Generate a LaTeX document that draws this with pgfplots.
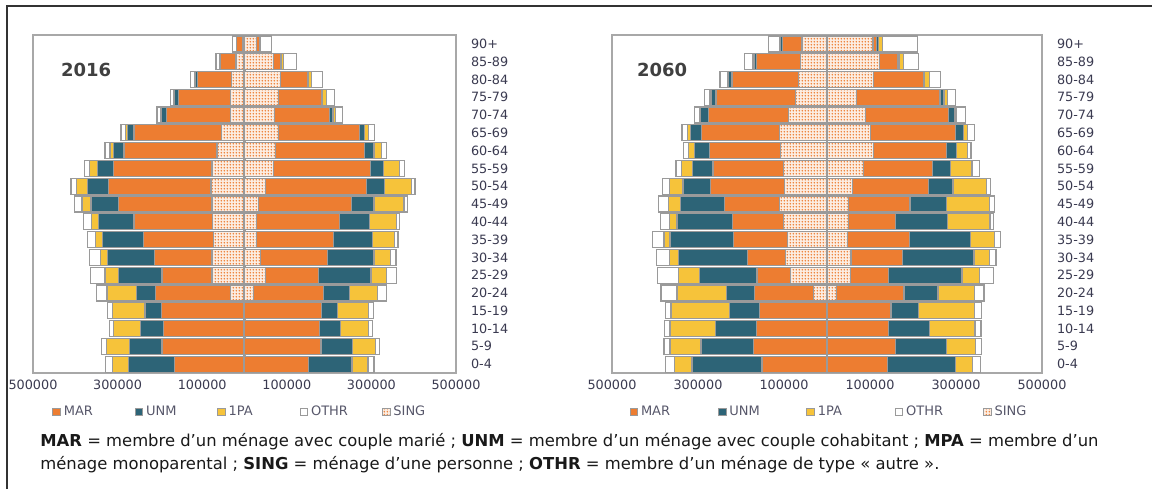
\documentclass[border=0pt]{standalone}
\usepackage{pgfplots}
\pgfplotsset{compat=1.18}
\usepackage{pgfplotstable}
\usepackage{fontspec}
\setmainfont{DejaVu Sans}
\usetikzlibrary{patterns}

\definecolor{mar}{HTML}{ED7D31}
\definecolor{unm}{HTML}{2D6477}
\definecolor{opa}{HTML}{F6C33A}
\definecolor{edge}{HTML}{9A9A9A}
\definecolor{axisgray}{HTML}{A8A8A8}
\definecolor{lbl}{HTML}{3A3A50}

% fine dot texture for the SING bars
\pgfdeclarepatternformonly{finedots}{\pgfpointorigin}{\pgfqpoint{1.6pt}{1.6pt}}{\pgfqpoint{1.6pt}{1.6pt}}{%
  \pgfpathellipse{\pgfqpoint{0.8pt}{0.8pt}}{\pgfqpoint{0.45pt}{0pt}}{\pgfqpoint{0pt}{0.6pt}}%
  \pgfusepath{fill}}

% 2016, left half (negative side)
\pgfplotstableread{
age SING MAR UNM PA OTHR
0 0 -166000 -108000 -38000 -16000
1 0 -195000 -76000 -55000 -12000
2 0 -192000 -53000 -64000 -10000
3 0 -196000 -39000 -77000 -12000
4 -34000 -177000 -45000 -69000 -24000
5 -77000 -118000 -102000 -33000 -34000
6 -77000 -135000 -112000 -16000 -26000
7 -73000 -166000 -97000 -17000 -18000
8 -75000 -186000 -84000 -16000 -20000
9 -77000 -221000 -65000 -21000 -18000
10 -79000 -243000 -49000 -26000 -13000
11 -77000 -233000 -38000 -18000 -13000
12 -65000 -220000 -24000 -9000 -12000
13 -55000 -206000 -16000 -5000 -10000
14 -34000 -151000 -12000 -2000 -8000
15 -34000 -122000 -9000 -2000 -8000
16 -30000 -82000 -5000 -1000 -9000
17 -20000 -37000 -1500 -1000 -8000
18 -5000 -13000 -1000 -500 -8000
}\Lsixteen

% 2016, right half
\pgfplotstableread{
age SING MAR UNM PA OTHR
0 0 152000 102000 38000 14000
1 0 181000 74000 55000 10000
2 0 178000 49000 66000 10000
3 0 182000 38000 74000 10000
4 21000 165000 63000 65000 21000
5 49000 126000 124000 37000 24000
6 37000 159000 110000 39000 13000
7 29000 181000 92000 53000 8000
8 29000 196000 71000 63000 8000
9 33000 220000 53000 71000 9000
10 49000 239000 43000 63000 9000
11 68000 230000 31000 37000 13000
12 74000 210000 22000 17000 12000
13 80000 191000 13000 9000 15000
14 70000 131000 8000 6000 16000
15 80000 102000 2000 10000 19000
16 86000 63000 2000 8000 26000
17 68000 18000 1000 5000 31000
18 29000 6000 1000 1000 27000
}\Rsixteen

% 2060, left half
\pgfplotstableread{
age SING MAR UNM PA OTHR
0 0 -151000 -163000 -40000 -22000
1 0 -171000 -122000 -72000 -14000
2 0 -164000 -96000 -105000 -12000
3 0 -157000 -70000 -136000 -13000
4 -31000 -138000 -64000 -116000 -37000
5 -84000 -79000 -133000 -49000 -49000
6 -97000 -88000 -160000 -21000 -31000
7 -91000 -127000 -147000 -14000 -27000
8 -101000 -119000 -129000 -17000 -22000
9 -110000 -128000 -102000 -29000 -22000
10 -99000 -172000 -64000 -31000 -16000
11 -102000 -163000 -47000 -26000 -13000
12 -109000 -165000 -35000 -14000 -11000
13 -110000 -181000 -26000 -7000 -13000
14 -89000 -186000 -19000 -3000 -12000
15 -74000 -184000 -12000 -2000 -12000
16 -66000 -155000 -9000 -2000 -17000
17 -62000 -102000 -6000 -3000 -18000
18 -58000 -46000 -4000 -2000 -26000
}\Lsixty

% 2060, right half
\pgfplotstableread{
age SING MAR UNM PA OTHR
0 0 140000 159000 39000 19000
1 0 159000 119000 67000 14000
2 0 143000 95000 106000 14000
3 0 149000 64000 130000 16000
4 22000 157000 79000 85000 22000
5 54000 89000 171000 41000 33000
6 56000 119000 167000 35000 16000
7 48000 144000 141000 56000 14000
8 50000 109000 122000 98000 8000
9 50000 143000 84000 101000 11000
10 60000 176000 57000 78000 9000
11 85000 161000 42000 49000 18000
12 108000 169000 25000 25000 8000
13 101000 198000 19000 8000 17000
14 89000 194000 13000 4000 22000
15 68000 195000 9000 8000 19000
16 109000 115000 3000 12000 25000
17 122000 43000 3000 10000 35000
18 107000 9000 3000 10000 81000
}\Rsixty

\pgfplotsset{
  panel/.style={
    scale only axis, height=169pt,
    xbar stacked, bar width=8pt,
    xmin=-500000, xmax=500000, ymin=-0.5, ymax=18.5,
    scaled x ticks=false,
    axis line style={axisgray, line width=1pt},
    xtick={-500000,-300000,-100000,100000,300000,500000},
    xticklabels={500000,300000,100000,100000,300000,500000},
    xtick pos=bottom, ytick pos=right,
    ytick={0,...,18},
    yticklabels={0-4,5-9,10-14,15-19,20-24,25-29,30-34,35-39,40-44,45-49,50-54,55-59,60-64,65-69,70-74,75-79,80-84,85-89,90+},
    yticklabel pos=right,
    ytick style={draw=none},
    xtick align=inside, major tick length=3pt,
    xtick style={axisgray, line width=0.8pt},
    tick label style={font=\fontsize{6.4}{7}\selectfont, text=lbl},
    yticklabel style={anchor=west, xshift=4pt},
    every axis plot/.append style={draw=edge, line width=0.6pt},
    legend image code/.code={\draw[#1, line width=0.4pt] (0pt,-1.9pt) rectangle (3.8pt,1.9pt);},
    legend columns=5,
  },
  hidden/.style={panel, hide axis},
  sing/.style={fill=mar!14, postaction={pattern=finedots, pattern color=mar}},
}

\begin{document}
\begin{tikzpicture}
\useasboundingbox (0pt,0pt) rectangle (576pt,-244.5pt);
\draw[line width=1pt, black!80] (3.5pt,-244.5pt) -- (3.5pt,-3pt) -- (576pt,-3pt);

% ---------- 2016 ----------
\begin{axis}[panel, width=211.5pt, at={(16.5pt,-186.5pt)}, anchor=south west,
  legend style={draw=none, fill=none, inner sep=0pt, at={(0.045,-0.115)}, anchor=west,
    font=\fontsize{6.5}{7}\selectfont, text=lbl!85,
    nodes={text width=34pt, align=left, inner sep=1.5pt}}]
  \addlegendimage{fill=mar, draw=edge}\addlegendentry{MAR}
  \addlegendimage{fill=unm, draw=edge}\addlegendentry{UNM}
  \addlegendimage{fill=opa, draw=edge}\addlegendentry{1PA}
  \addlegendimage{fill=white, draw=edge}\addlegendentry{OTHR}
  \addlegendimage{sing, draw=edge}\addlegendentry{SING}
  \addplot[sing] table[x=SING, y=age] {\Lsixteen};
  \addplot[fill=mar] table[x=MAR, y=age] {\Lsixteen};
  \addplot[fill=unm] table[x=UNM, y=age] {\Lsixteen};
  \addplot[fill=opa] table[x=PA, y=age] {\Lsixteen};
  \addplot[fill=white] table[x=OTHR, y=age] {\Lsixteen};
\end{axis}
\begin{axis}[hidden, width=211.5pt, at={(16.5pt,-186.5pt)}, anchor=south west]
  \addplot[sing] table[x=SING, y=age] {\Rsixteen};
  \addplot[fill=mar] table[x=MAR, y=age] {\Rsixteen};
  \addplot[fill=unm] table[x=UNM, y=age] {\Rsixteen};
  \addplot[fill=opa] table[x=PA, y=age] {\Rsixteen};
  \addplot[fill=white] table[x=OTHR, y=age] {\Rsixteen};
  \draw[edge, line width=1.2pt] (axis cs:0,-0.5) -- (axis cs:0,18.5);
\end{axis}
\node[anchor=west, font=\bfseries\fontsize{9}{10}\selectfont, text=black!75] at (27pt,-35pt) {2016};

% ---------- 2060 ----------
\begin{axis}[panel, width=215pt, at={(306pt,-186.5pt)}, anchor=south west,
  legend style={draw=none, fill=none, inner sep=0pt, at={(0.04,-0.115)}, anchor=west,
    font=\fontsize{6.5}{7}\selectfont, text=lbl!85,
    nodes={text width=37pt, align=left, inner sep=1.5pt}}]
  \addlegendimage{fill=mar, draw=edge}\addlegendentry{MAR}
  \addlegendimage{fill=unm, draw=edge}\addlegendentry{UNM}
  \addlegendimage{fill=opa, draw=edge}\addlegendentry{1PA}
  \addlegendimage{fill=white, draw=edge}\addlegendentry{OTHR}
  \addlegendimage{sing, draw=edge}\addlegendentry{SING}
  \addplot[sing] table[x=SING, y=age] {\Lsixty};
  \addplot[fill=mar] table[x=MAR, y=age] {\Lsixty};
  \addplot[fill=unm] table[x=UNM, y=age] {\Lsixty};
  \addplot[fill=opa] table[x=PA, y=age] {\Lsixty};
  \addplot[fill=white] table[x=OTHR, y=age] {\Lsixty};
\end{axis}
\begin{axis}[hidden, width=215pt, at={(306pt,-186.5pt)}, anchor=south west]
  \addplot[sing] table[x=SING, y=age] {\Rsixty};
  \addplot[fill=mar] table[x=MAR, y=age] {\Rsixty};
  \addplot[fill=unm] table[x=UNM, y=age] {\Rsixty};
  \addplot[fill=opa] table[x=PA, y=age] {\Rsixty};
  \addplot[fill=white] table[x=OTHR, y=age] {\Rsixty};
  \draw[edge, line width=1.2pt] (axis cs:0,-0.5) -- (axis cs:0,18.5);
\end{axis}
\node[anchor=west, font=\bfseries\fontsize{9}{10}\selectfont, text=black!75] at (315pt,-35pt) {2060};

% ---------- footnote ----------
\node[anchor=base west, inner sep=0pt, font=\fontsize{8.2}{9}\selectfont, text=black!90] at (20pt,-223pt)
  {\textbf{MAR} = membre d’un ménage avec couple marié ; \textbf{UNM} = membre d’un ménage avec couple cohabitant ; \textbf{MPA} = membre d’un};
\node[anchor=base west, inner sep=0pt, font=\fontsize{8.2}{9}\selectfont, text=black!90] at (20pt,-234.5pt)
  {ménage monoparental ; \textbf{SING} = ménage d’une personne ; \textbf{OTHR} = membre d’un ménage de type « autre ».};
\end{tikzpicture}
\end{document}
